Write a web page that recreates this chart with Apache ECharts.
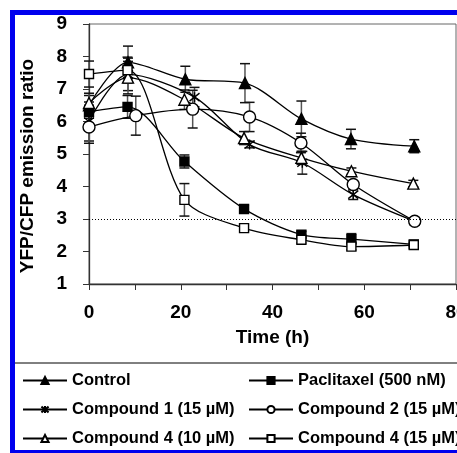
<!DOCTYPE html>
<html>
<head>
<meta charset="utf-8">
<script src="https://cdn.jsdelivr.net/npm/echarts@6/dist/echarts.min.js"></script>
<style>
html,body{margin:0;padding:0;background:#fff;}
#chart{width:457px;height:453px;}
</style>
</head>
<body>
<div id="chart"></div>
<script>
// ---- data ----
const seriesNames = ['Control', 'Paclitaxel (500 nM)', 'Compound 1 (15 µM)', 'Compound 2 (15 µM)', 'Compound 4 (10 µM)', 'Compound 4 (15 µM)'];
const controlX = [0, 8.5, 21, 34, 46.3, 57.1, 70.9];
const controlY = [6.5, 7.82, 7.3, 7.18, 6.08, 5.46, 5.24];
const controlErr = [0.3, 0.5, 0.4, 0.6, 0.55, 0.3, 0.2];
const paclitaxelX = [0, 8.4, 20.8, 33.8, 46.3, 57.2, 70.8];
const paclitaxelY = [6.3, 6.45, 4.77, 3.31, 2.52, 2.38, 2.22];
const paclitaxelErr = [0.2, 0.35, 0.2, 0.1, 0.1, 0.17, 0.05];
const compound1X = [0, 8.5, 23, 35, 46.5, 57.6, 71];
const compound1Y = [6.0, 7.45, 6.75, 5.29, 4.73, 3.75, 2.93];
const compound1Err = [0.6, 0.5, 0.3, 0.1, 0.35, 0.15, 0.1];
const compound2X = [0, 10.2, 22.6, 35, 46.2, 57.6, 71];
const compound2Y = [5.83, 6.18, 6.38, 6.14, 5.34, 4.06, 2.93];
const compound2Err = [0.5, 0.6, 0.58, 0.45, 0.3, 0.1, 0.1];
const compound4aX = [0, 8.5, 20.8, 33.8, 46.3, 57.2, 70.7];
const compound4aY = [6.57, 7.35, 6.67, 5.49, 4.88, 4.47, 4.09];
const compound4aErr = [0.3, 0.5, 0.3, 0.2, 0.2, 0.1, 0.1];
const compound4bX = [0, 8.4, 20.8, 33.8, 46.3, 57.2, 70.8];
const compound4bY = [7.46, 7.58, 3.59, 2.72, 2.36, 2.15, 2.2];
const compound4bErr = [0.4, 0.4, 0.5, 0.1, 0.1, 0.1, 0.05];
const thresholdY = 3;
const xTicks = [0, 20, 40, 60, 80];
const yTicks = [1, 2, 3, 4, 5, 6, 7, 8, 9];

const FONT = '"Liberation Sans", Arial, sans-serif';
const ASTERISK = 'path://M1,1L9,9M9,1L1,9M5,0L5,10';

function pairs(xs, ys) { return xs.map((x, i) => [x, ys[i]]); }
function triples(xs, ys, es) { return xs.map((x, i) => [x, ys[i], es[i]]); }

const defs = [
  { name: seriesNames[0], x: controlX, y: controlY, e: controlErr, symbol: 'triangle', size: 11, fill: '#000' },
  { name: seriesNames[1], x: paclitaxelX, y: paclitaxelY, e: paclitaxelErr, symbol: 'rect', size: 9, fill: '#000' },
  { name: seriesNames[2], x: compound1X, y: compound1Y, e: compound1Err, symbol: ASTERISK, size: 10, fill: 'none' },
  { name: seriesNames[3], x: compound2X, y: compound2Y, e: compound2Err, symbol: 'circle', size: 12, fill: '#fff' },
  { name: seriesNames[4], x: compound4aX, y: compound4aY, e: compound4aErr, symbol: 'triangle', size: 11, fill: '#fff' },
  { name: seriesNames[5], x: compound4bX, y: compound4bY, e: compound4bErr, symbol: 'rect', size: 9, fill: '#fff' }
];

const series = [];
defs.forEach((d, idx) => {
  series.push({
    type: 'custom',
    name: d.name + ' err',
    z: 1,
    silent: true,
    data: triples(d.x, d.y, d.e),
    renderItem: function (params, api) {
      const x = api.value(0), y = api.value(1), e = api.value(2);
      const top = api.coord([x, y + e]);
      const bot = api.coord([x, y - e]);
      const hw = 5;
      return {
        type: 'group',
        children: [
          { type: 'line', shape: { x1: top[0], y1: top[1], x2: bot[0], y2: bot[1] }, style: { stroke: '#555', lineWidth: 1.5 } },
          { type: 'line', shape: { x1: top[0] - hw, y1: top[1], x2: top[0] + hw, y2: top[1] }, style: { stroke: '#111', lineWidth: 1.5 } },
          { type: 'line', shape: { x1: bot[0] - hw, y1: bot[1], x2: bot[0] + hw, y2: bot[1] }, style: { stroke: '#111', lineWidth: 1.5 } }
        ]
      };
    }
  });
  const s = {
    type: 'line',
    name: d.name,
    z: 3,
    data: pairs(d.x, d.y),
    smooth: 0.3,
    symbol: d.symbol,
    symbolSize: d.size,
    showAllSymbol: true,
    lineStyle: { color: '#000', width: 1.3 },
    itemStyle: { color: d.fill, borderColor: '#000', borderWidth: 1.4 },
    emphasis: { disabled: true },
    animation: false
  };
  if (idx === 0) {
    s.markLine = {
      silent: true,
      symbol: ['none', 'none'],
      label: { show: false },
      lineStyle: { color: '#000', type: [1, 2], width: 1 },
      data: [{ yAxis: thresholdY }]
    };
  }
  series.push(s);
});

const legendText = { fontFamily: FONT, fontWeight: 'bold', fontSize: 16.5, color: '#000' };

const option = {
  animation: false,
  backgroundColor: '#fff',
  grid: { left: 89, top: 24, width: 367, height: 260, show: true, borderColor: '#666', borderWidth: 1, outerBoundsMode: 'none', containLabel: false },
  xAxis: {
    type: 'value', min: 0, max: 80, interval: 10,
    name: 'Time (h)', nameLocation: 'middle', nameGap: 44,
    nameTextStyle: { fontFamily: FONT, fontWeight: 'bold', fontSize: 19, color: '#000' },
    axisLine: { lineStyle: { color: '#333', width: 1.3 } },
    axisTick: { show: true, inside: false, length: 6, lineStyle: { color: '#333' } },
    splitLine: { show: false },
    axisLabel: {
      margin: 19, fontFamily: FONT, fontWeight: 'bold', fontSize: 19, color: '#000',
      hideOverlap: false,
      formatter: v => (xTicks.indexOf(v) >= 0 ? String(v) : '')
    }
  },
  yAxis: {
    type: 'value', min: 1, max: 9, interval: 1,
    name: 'YFP/CFP emission ratio', nameLocation: 'middle', nameGap: 52,
    nameTextStyle: { fontFamily: FONT, fontWeight: 'bold', fontSize: 19, color: '#000', padding: [0, 24, 0, 0] },
    axisLine: { show: true, lineStyle: { color: '#333', width: 1.3 } },
    axisTick: { show: true, inside: false, length: 6, lineStyle: { color: '#333' } },
    splitLine: { show: false },
    axisLabel: {
      margin: 22, fontFamily: FONT, fontWeight: 'bold', fontSize: 19, color: '#000',
      formatter: v => (yTicks.indexOf(v) >= 0 ? String(v) : '')
    }
  },
  legend: [
    {
      left: 17, top: 367, orient: 'vertical', itemWidth: 44, itemHeight: 9, itemGap: 12,
      data: [seriesNames[0], seriesNames[2], seriesNames[4]], textStyle: legendText, selectedMode: false
    },
    {
      left: 243, top: 367, orient: 'vertical', itemWidth: 44, itemHeight: 9, itemGap: 12,
      data: [seriesNames[1], seriesNames[3], seriesNames[5]], textStyle: legendText, selectedMode: false
    }
  ],
  graphic: [
    { type: 'rect', shape: { x: 10, y: 10, width: 447, height: 5 }, style: { fill: '#0000ee' }, silent: true },
    { type: 'rect', shape: { x: 10, y: 10, width: 5, height: 443 }, style: { fill: '#0000ee' }, silent: true },
    { type: 'rect', shape: { x: 10, y: 450, width: 447, height: 3 }, style: { fill: '#0000ee' }, silent: true },
    { type: 'line', shape: { x1: 15, y1: 363, x2: 457, y2: 363 }, style: { stroke: '#000', lineWidth: 1 }, silent: true }
  ],
  series: series
};

const chart = echarts.init(document.getElementById('chart'), null, { renderer: 'canvas' });
chart.setOption(option);
</script>
</body>
</html>
